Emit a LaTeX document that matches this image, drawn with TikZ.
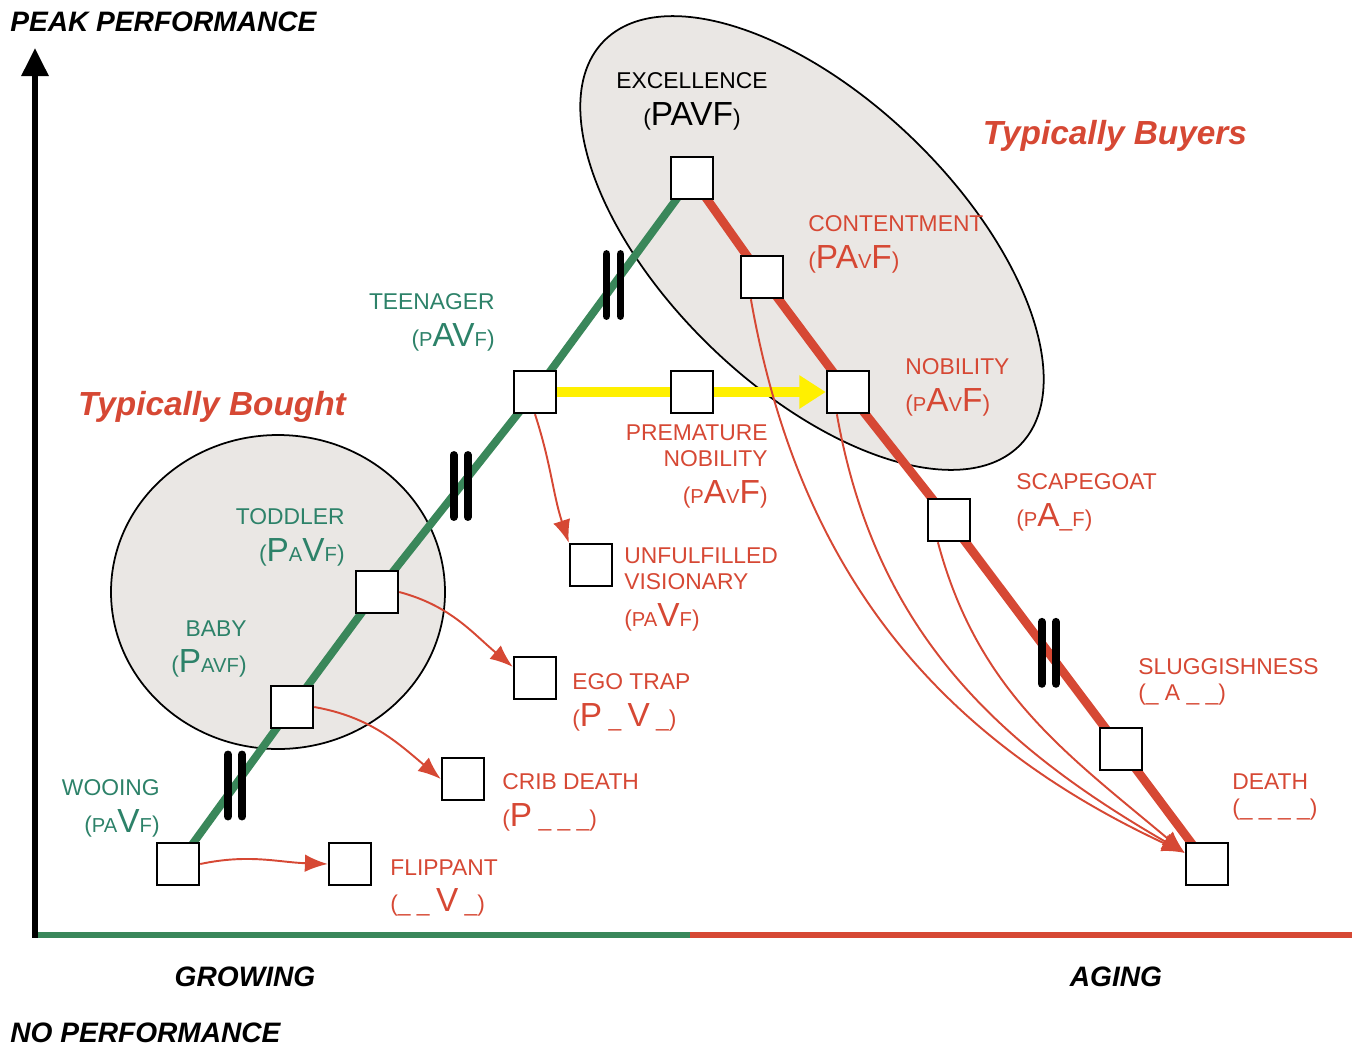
\documentclass[tikz,border=0pt]{standalone}
\usepackage{fontspec}
\setmainfont{Liberation Sans}
\usetikzlibrary{arrows.meta,calc}
\pgfdeclarelayer{bg}
\pgfsetlayers{bg,main}
\definecolor{grn}{RGB}{58,135,90}
\definecolor{grntext}{RGB}{45,130,105}
\definecolor{agered}{RGB}{214,72,52}
\definecolor{shade}{RGB}{234,231,228}
\definecolor{yel}{RGB}{255,240,0}
\newcommand{\Lg}[1]{{\fontsize{19}{19}\selectfont #1}}
\newcommand{\Sm}[1]{{\fontsize{11.5}{11.5}\selectfont #1}}

\begin{document}
\begin{tikzpicture}[x=0.02cm,y=0.02cm,
box/.style={draw=black,fill=white,line width=1.4pt,minimum size=0.84cm,inner sep=0pt},
lab/.style={inner sep=0pt,font=\fontsize{13}{15}\selectfont},
title/.style={inner sep=0pt,font=\fontsize{16}{16}\selectfont\bfseries\itshape},
bar/.style={line width=4.5pt,line cap=round},
redarr/.style={agered,line width=1.1pt,-{Latex[length=13pt,width=10pt]}}
]
\useasboundingbox (0,0) rectangle (1357,-1046);

\coordinate (O) at (35,-935);
\coordinate (Ytop) at (35,-48);
\coordinate (Xm) at (690,-935);
\coordinate (Xe) at (1352,-935);

\node[box] (W) at (178,-864) {};
\node[box] (Fl) at (350,-864) {};
\node[box] (Cr) at (463,-779) {};
\node[box] (Ba) at (292,-707) {};
\node[box] (Eg) at (535,-678) {};
\node[box] (To) at (377,-592) {};
\node[box] (Un) at (591,-565) {};
\node[box] (Te) at (535,-392) {};
\node[box] (Pr) at (692,-392) {};
\node[box] (Ex) at (692,-178) {};
\node[box] (Co) at (762,-277) {};
\node[box] (No) at (848,-392) {};
\node[box] (Sc) at (949,-520) {};
\node[box] (Sl) at (1121,-749) {};
\node[box] (De) at (1207,-864) {};

\coordinate (dIn) at ($(De.west)!0.5!(De.north west)$);
\coordinate (egIn) at ($(Eg.west)!0.5!(Eg.north west)$);

\begin{pgfonlayer}{bg}
\draw[fill=shade,line width=1pt] (278,-592) ellipse (167 and 157);
\draw[fill=shade,line width=1pt,rotate around={-44:(812,-243)}] (812,-243) ellipse (290 and 145);

\draw[grn,line width=3pt] (O) -- (Xm);
\draw[agered,line width=3pt] (Xm) -- (Xe);
\draw[line width=3pt,-{Triangle[length=16pt,width=15pt]}] ([yshift=-1.5pt]O) -- (Ytop);

\draw[grn,line width=4.5pt] (W.center) -- (Ba.center) -- (To.center) -- (Te.center) -- (Ex.center);
\draw[agered,line width=5pt] (Ex.center) -- (Co.center) -- (No.center) -- (Sc.center) -- (Sl.center) -- (De.center);

\draw[bar] ($(W)!0.5!(Ba)+(-7,31)$) -- ++(0,-62);
\draw[bar] ($(W)!0.5!(Ba)+(7,31)$) -- ++(0,-62);
\draw[bar] ($(To)!0.53!(Te)+(-7,31)$) -- ++(0,-62);
\draw[bar] ($(To)!0.53!(Te)+(7,31)$) -- ++(0,-62);
\draw[bar] ($(Te)!0.5!(Ex)+(-7,31)$) -- ++(0,-62);
\draw[bar] ($(Te)!0.5!(Ex)+(7,31)$) -- ++(0,-62);
\draw[bar] ($(Sc)!0.58!(Sl)+(-7,31)$) -- ++(0,-62);
\draw[bar] ($(Sc)!0.58!(Sl)+(7,31)$) -- ++(0,-62);

\draw[yel,line width=5.7pt,-{Triangle[length=15pt,width=18pt]}] (Te.east) -- (No.west);

\draw[redarr] ($(Co.south)!0.5!(Co.south west)$) to[out=-80,in=155] (dIn);
\draw[redarr] ($(No.south)!0.5!(No.south west)$) to[out=-80,in=150] (dIn);
\draw[redarr] ($(Sc.south)!0.5!(Sc.south west)$) to[out=-75,in=140] (dIn);
\end{pgfonlayer}

\draw[redarr] (Te.south) to[out=-72,in=108] (Un.north west);
\draw[redarr] (To.east) to[out=-15,in=140] (egIn);
\draw[redarr] (Ba.east) to[out=-10,in=140] (Cr.west);
\draw[redarr] (W.east) to[out=12,in=178] (Fl.west);

\node[title,anchor=west] (peak) at (10,-22) {PEAK PERFORMANCE};
\node[title,anchor=west] (none) at (10,-1033) {NO PERFORMANCE};
\node[title] (grw) at (245,-977) {GROWING};
\node[title] (agg) at (1116,-977) {AGING};
\node[inner sep=0pt,font=\fontsize{19}{19}\selectfont\bfseries\itshape,text=agered] (tbo) at (212,-407) {Typically Bought};
\node[inner sep=0pt,font=\fontsize{19}{19}\selectfont\bfseries\itshape,text=agered] (tbu) at (1115,-136) {Typically Buyers};

\node[lab,anchor=north,align=center] (exT) at (692,-72) {EXCELLENCE\\[6pt](\Lg{PAVF})};
\node[lab,anchor=north east,align=right,text=grntext] (teT) at (495,-293) {TEENAGER\\[6pt](\Sm{P}\Lg{AV}\Sm{F})};
\node[lab,anchor=north east,align=right,text=grntext] (toT) at (345,-508) {TODDLER\\[6pt](\Lg{P}\Sm{A}\Lg{V}\Sm{F})};
\node[lab,anchor=north east,align=right,text=grntext] (baT) at (247,-620) {BABY\\[6pt](\Lg{P}\Sm{AVF})};
\node[lab,anchor=north east,align=right,text=grntext] (woT) at (160,-779) {WOOING\\[6pt](\Sm{PA}\Lg{V}\Sm{F})};
\node[lab,anchor=north west,align=left,text=agered] (flT) at (390,-859) {FLIPPANT\\[6pt](\_ \_ \Lg{V} \_)};
\node[lab,anchor=north west,align=left,text=agered] (crT) at (502,-773) {CRIB DEATH\\[6pt](\Lg{P} \_ \_ \_)};
\node[lab,anchor=north west,align=left,text=agered] (egT) at (572,-673) {EGO TRAP\\[6pt](\Lg{P} \_ \Lg{V} \_)};
\node[lab,anchor=north west,align=left,text=agered] (unT) at (624,-547) {UNFULFILLED\\VISIONARY\\[6pt](\Sm{PA}\Lg{V}\Sm{F})};
\node[lab,anchor=north east,align=right,text=agered] (prT) at (768,-424) {PREMATURE\\NOBILITY\\[6pt](\Sm{P}\Lg{A}\Sm{V}\Lg{F})};
\node[lab,anchor=north west,align=left,text=agered] (coT) at (808,-215) {CONTENTMENT\\[6pt](\Lg{PA}\Sm{V}\Lg{F})};
\node[lab,anchor=north west,align=left,text=agered] (noT) at (905,-358) {NOBILITY\\[6pt](\Sm{P}\Lg{A}\Sm{V}\Lg{F})};
\node[lab,anchor=north west,align=left,text=agered] (scT) at (1016,-473) {SCAPEGOAT\\[6pt](\Sm{P}\Lg{A}\_\Sm{F})};
\node[lab,anchor=north west,align=left,text=agered] (slT) at (1138,-658) {SLUGGISHNESS\\(\_ A \_ \_)};
\node[lab,anchor=north west,align=left,text=agered] (deT) at (1232,-773) {DEATH\\(\_ \_ \_ \_)};
\end{tikzpicture}
\end{document}
